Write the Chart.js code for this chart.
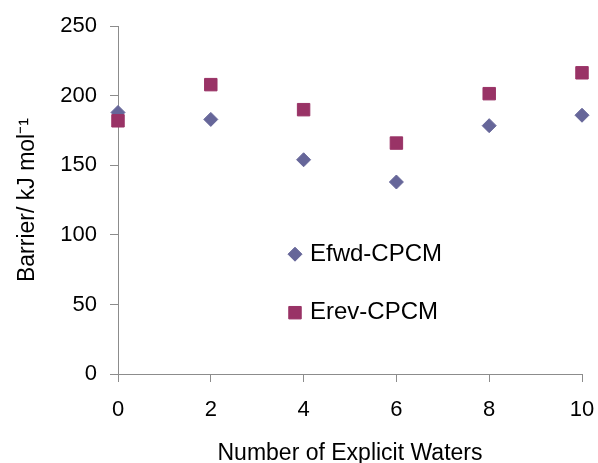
<!DOCTYPE html>
<html>
<head>
<meta charset="utf-8">
<script src="https://cdn.jsdelivr.net/npm/chart.js@4.4.1/dist/chart.umd.min.js"></script>
<style>
  html, body { margin: 0; padding: 0; background: #fff; }
</style>
</head>
<body>
<canvas id="chart" width="598" height="463"></canvas>
<script>
// values
const waters = [0, 2, 4, 6, 8, 10];
const efwd = [188, 183, 154, 138, 178.5, 186];
const erev = [182, 208, 190, 166, 201.5, 216.5];
const seriesNames = ["Efwd-CPCM", "Erev-CPCM"];
const xTicks = [0, 2, 4, 6, 8, 10];
const yTicks = [0, 50, 100, 150, 200, 250];

const FONT = '"Liberation Sans", Arial, sans-serif';
const AXIS_GREY = "#8c8c8c";

function pts(ys){ return waters.map((x, i) => ({x: x, y: ys[i]})); }

// legend sits inside the plot, stacked, as in the original
const innerLegend = {
  id: "innerLegend",
  afterDraw(chart){
    const {ctx, chartArea: a} = chart;
    const x = a.left + 177, y0 = a.top + 228, gap = 58.5;
    chart.data.datasets.forEach((ds, i) => {
      const y = y0 + i * gap;
      ctx.save();
      ctx.fillStyle = ds.backgroundColor;
      ctx.strokeStyle = ds.borderColor;
      ctx.lineWidth = ds.borderWidth;
      Chart.helpers.drawPoint(ctx, {pointStyle: ds.pointStyle, radius: ds.pointRadius, rotation: 0, borderWidth: ds.borderWidth}, x, y);
      ctx.fillStyle = "#000";
      ctx.font = "24px " + FONT;
      ctx.textAlign = "left";
      ctx.textBaseline = "middle";
      ctx.fillText(ds.label, x + 15, y);
      ctx.restore();
    });
  }
};

new Chart(document.getElementById("chart").getContext("2d"), {
  type: "scatter",
  data: {
    datasets: [
      {label: seriesNames[0], data: pts(efwd), pointStyle: "rectRot", pointRadius: 7,
       backgroundColor: "#666699", borderColor: "#666699", borderWidth: 1, clip: false, order: 1},
      {label: seriesNames[1], data: pts(erev), pointStyle: "rect", pointRadius: 8.8,
       backgroundColor: "#993366", borderColor: "#993366", borderWidth: 1, clip: false, order: 0}
    ]
  },
  options: {
    responsive: false,
    animation: false,
    devicePixelRatio: 1,
    layout: {padding: {top: 25, right: 16, left: 0, bottom: 0}},
    plugins: {legend: {display: false}, tooltip: {enabled: false}},
    scales: {
      x: {
        type: "linear", position: "bottom",
        min: xTicks[0], max: xTicks[xTicks.length - 1],
        afterFit: s => { s.height = 89; s.paddingRight = 0; s.paddingLeft = 0; },
        ticks: {stepSize: xTicks[1] - xTicks[0], color: "#000", font: {family: FONT, size: 22}, padding: 15},
        grid: {drawOnChartArea: false, drawTicks: true, tickLength: 8, color: AXIS_GREY},
        border: {color: AXIS_GREY, width: 1},
        title: {display: true, text: "Number of Explicit Waters", color: "#000",
                font: {family: FONT, size: 23, lineHeight: 1}, padding: {top: 0, bottom: -2}}
      },
      y: {
        min: yTicks[0], max: yTicks[yTicks.length - 1],
        afterFit: s => { s.width = 118; },
        ticks: {stepSize: yTicks[1] - yTicks[0], color: "#000", font: {family: FONT, size: 22}, padding: 13},
        grid: {drawOnChartArea: false, drawTicks: true, tickLength: 8, color: AXIS_GREY},
        border: {color: AXIS_GREY, width: 1},
        title: {display: true, text: "Barrier/ kJ mol\u207B\u00B9", color: "#000",
                font: {family: FONT, size: 23, lineHeight: 1}, padding: {top: 16, bottom: 0}}
      }
    }
  },
  plugins: [innerLegend]
});
</script>
</body>
</html>
